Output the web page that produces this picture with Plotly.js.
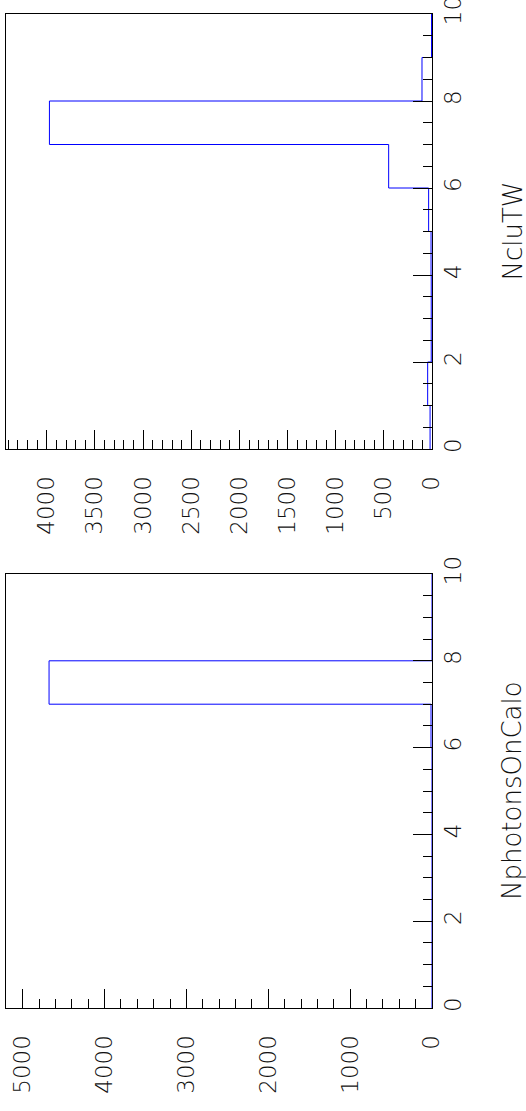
<!DOCTYPE html>
<html>
<head>
<meta charset="utf-8">
<script src="https://cdn.plot.ly/plotly-3.0.1.min.js"></script>
<style>html,body{margin:0;padding:0;background:#fff;}#chart{width:526px;height:1111px;}</style>
</head>
<body>
<div id="chart"></div>
<script>
// Bin edges shared by both histograms (0..10, width 1)
const binEdges = [0, 1, 2, 3, 4, 5, 6, 7, 8, 9, 10];
// Histogram contents
const ncluTW = [20, 45, 8, 8, 10, 35, 450, 3973, 104, 5];
const nphotonsOnCalo = [0, 0, 0, 0, 0, 0, 12, 4678, 0, 0];
const titleTop = 'NcluTW';
const titleBottom = 'NphotonsOnCalo';

function stepXY(values) {
  const xs = values.slice();
  xs.push(values[values.length - 1]);
  return { x: xs, y: binEdges.slice() };
}

const W = 526, H = 1111;
const xDom = [6 / W, 432 / W];
const topDom = [1 - 449 / H, 1 - 14 / H];
const botDom = [1 - 1008 / H, 1 - 574 / H];

const FONT = '"DejaVu Sans ExtraLight", "DejaVu Sans"';
const tickFont = { family: FONT, size: 23, color: '#111', weight: 200 };

const s1 = stepXY(ncluTW);
const s2 = stepXY(nphotonsOnCalo);

const traces = [
  { type: 'scatter', mode: 'lines', x: s1.x, y: s1.y, xaxis: 'x', yaxis: 'y',
    line: { color: '#0000ff', width: 1, shape: 'vh' }, hoverinfo: 'skip' },
  { type: 'scatter', mode: 'lines', x: s2.x, y: s2.y, xaxis: 'x2', yaxis: 'y2',
    line: { color: '#0000ff', width: 1, shape: 'vh' }, hoverinfo: 'skip' }
];

function countAxis(dom, anchor, range, dtick, minorDtick) {
  return {
    domain: dom, anchor: anchor, range: range, autorange: false,
    tick0: 0, dtick: dtick, ticks: 'inside', ticklen: 19, tickwidth: 1, tickcolor: '#000',
    minor: { tick0: 0, dtick: minorDtick, ticks: 'inside', ticklen: 9, tickwidth: 1, tickcolor: '#000', showgrid: false },
    showline: true, linecolor: '#000', linewidth: 1, mirror: true,
    tickangle: -90, tickfont: tickFont, ticklabelstandoff: 17, ticklabeloverflow: 'allow',
    showgrid: false, zeroline: false, fixedrange: true
  };
}
function binAxis(dom, anchor) {
  return {
    domain: dom, anchor: anchor, side: 'right', range: [0, 10], autorange: false,
    tick0: 0, dtick: 2, ticks: 'inside', ticklen: 19, tickwidth: 1, tickcolor: '#000',
    minor: { tick0: 0, dtick: 0.5, ticks: 'inside', ticklen: 9, tickwidth: 1, tickcolor: '#000', showgrid: false },
    showline: true, linecolor: '#000', linewidth: 1, mirror: true,
    tickangle: -90, tickfont: tickFont, ticklabelstandoff: 0, ticklabeloverflow: 'allow',
    showgrid: false, zeroline: false, fixedrange: true
  };
}

const layout = {
  width: W, height: H,
  margin: { l: 0, r: 0, t: 0, b: 0, pad: 0 },
  paper_bgcolor: '#fff', plot_bgcolor: '#fff',
  showlegend: false,
  xaxis: countAxis(xDom, 'y', [4424, 0], 500, 100),
  yaxis: binAxis(topDom, 'x'),
  xaxis2: countAxis(xDom, 'y2', [5204, 0], 1000, 200),
  yaxis2: binAxis(botDom, 'x2'),
  annotations: [
    { text: titleTop, xref: 'paper', yref: 'paper', x: 512 / W, y: (topDom[0] + topDom[1]) / 2,
      textangle: -90, showarrow: false, xanchor: 'center', yanchor: 'middle',
      font: { family: FONT, size: 26, color: '#111', weight: 200 } },
    { text: titleBottom, xref: 'paper', yref: 'paper', x: 512 / W, y: (botDom[0] + botDom[1]) / 2,
      textangle: -90, showarrow: false, xanchor: 'center', yanchor: 'middle',
      font: { family: FONT, size: 26, color: '#111', weight: 200 } }
  ]
};

Plotly.newPlot('chart', traces, layout, { staticPlot: true, displayModeBar: false });
</script>
</body>
</html>
